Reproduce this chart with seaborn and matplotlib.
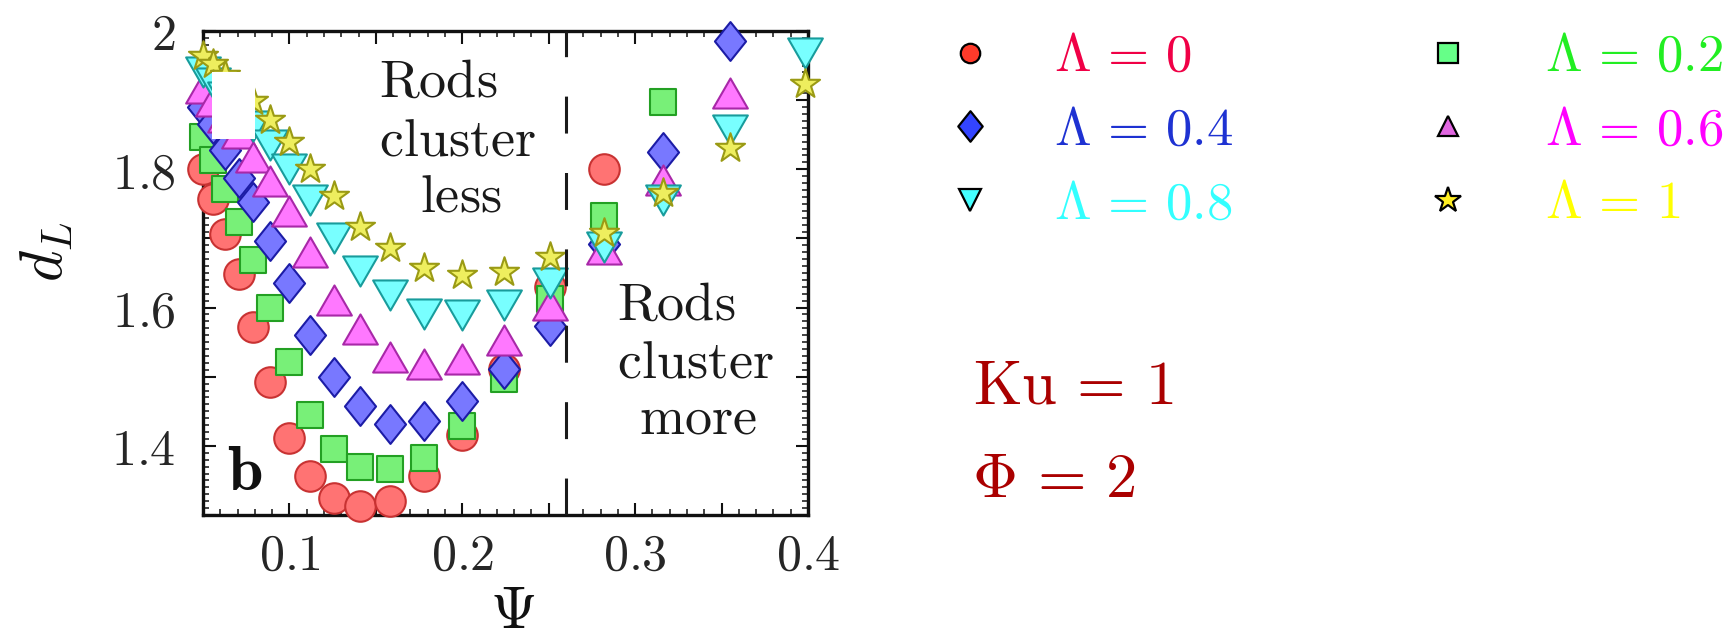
import numpy as np
import pandas as pd
import matplotlib
matplotlib.use("Agg")
import matplotlib.pyplot as plt
import seaborn as sns
from matplotlib.path import Path
from matplotlib.markers import MarkerStyle
from matplotlib.lines import Line2D
from matplotlib.patches import Rectangle
from matplotlib.ticker import FixedLocator, FixedFormatter, MultipleLocator

# ---------------- data ----------------
psi = [0.050, 0.056, 0.063, 0.071, 0.079, 0.089, 0.100, 0.112, 0.126, 0.141,
       0.158, 0.178, 0.200, 0.224, 0.251, 0.282, 0.316, 0.355, 0.398]
nan = np.nan
d_lam_0 = [1.800, 1.757, 1.706, 1.649, 1.572, 1.492, 1.412, 1.356, 1.325, 1.313,
           1.320, 1.356, 1.415, 1.511, 1.630, 1.801, nan, nan, nan]
d_lam_02 = [1.846, 1.813, 1.772, 1.724, 1.669, 1.599, 1.521, 1.444, 1.395, 1.369,
            1.366, 1.383, 1.429, 1.497, 1.612, 1.733, 1.898, nan, nan]
d_lam_04 = [1.890, 1.865, 1.828, 1.788, 1.752, 1.697, 1.635, 1.560, 1.499, 1.458,
            1.432, 1.436, 1.465, 1.511, 1.574, 1.692, 1.825, 1.985, nan]
d_lam_06 = [1.917, 1.899, 1.876, 1.852, 1.818, 1.783, 1.740, 1.681, 1.611, 1.569,
            1.528, 1.519, 1.526, 1.553, 1.603, 1.684, 1.785, 1.911, nan]
d_lam_08 = [1.940, 1.925, 1.905, 1.885, 1.862, 1.835, 1.800, 1.755, 1.700, 1.653,
            1.618, 1.591, 1.589, 1.603, 1.635, 1.688, 1.755, 1.857, 1.968]
d_lam_1 = [1.964, 1.952, 1.937, 1.918, 1.899, 1.871, 1.840, 1.800, 1.761, 1.717,
           1.686, 1.657, 1.647, 1.652, 1.673, 1.708, 1.765, 1.831, 1.923]

lambda_labels = ["0", "0.2", "0.4", "0.6", "0.8", "1"]
series = [d_lam_0, d_lam_02, d_lam_04, d_lam_06, d_lam_08, d_lam_1]

x_major_ticks = [0.05, 0.10, 0.15, 0.20, 0.25, 0.30, 0.35, 0.40]
x_tick_labels = ["", "0.1", "", "0.2", "", "0.3", "", "0.4"]
y_major_ticks = [1.3, 1.4, 1.5, 1.6, 1.7, 1.8, 1.9, 2.0]
y_tick_labels = ["", "1.4", "", "1.6", "", "1.8", "", "2"]
psi_boundary = 0.26

df = pd.concat(
    [pd.DataFrame({"psi": psi, "d": vals, "Lambda": lab})
     for lab, vals in zip(lambda_labels, series)],
    ignore_index=True)

# ---------------- styles ----------------
def poly_marker(verts):
    v = list(verts) + [verts[0]]
    codes = [Path.MOVETO] + [Path.LINETO] * (len(verts) - 1) + [Path.CLOSEPOLY]
    return MarkerStyle(Path(v, codes))

diamond = poly_marker([(0, 1), (0.8, 0), (0, -1), (-0.8, 0)])
tri_up = poly_marker([(0, 0.866), (-1, -0.866), (1, -0.866)])
tri_dn = poly_marker([(0, -0.866), (1, 0.866), (-1, 0.866)])

plot_markers = ["o", "s", diamond, tri_up, tri_dn, "*"]
plot_ms = [22, 18.5, 28, 25, 25, 22]
fills = ["#ff7373", "#78f078", "#7878ff", "#ff78ff", "#78ffff", "#eeee5e"]
edges = ["#c83232", "#23a023", "#1c1ca6", "#a828a8", "#189c9c", "#9a9a14"]

leg_markers = ["o", "s", diamond, "^", "v", "*"]
leg_ms = [14, 15, 22, 15, 16, 19]
leg_fills = ["#ff3a2a", "#66ff88", "#3344ff", "#e066e0", "#44ffff", "#ffee22"]
text_colors = ["#f00046", "#22ee22", "#1e32d2", "#ff00ff", "#33ffff", "#ffff00"]

sns.set_theme(style="ticks")
plt.rcParams["mathtext.fontset"] = "cm"
plt.rcParams["font.family"] = ["DejaVu Serif", "DejaVu Sans"]
plt.rcParams["lines.scale_dashes"] = False

fig = plt.figure(figsize=(17.28, 6.42), dpi=100, facecolor="white")
ax = fig.add_axes([0.11748, 0.19782, 0.35012, 0.75389])
ax.set_facecolor("white")

for lab, mk, ms, fc, ec in zip(lambda_labels, plot_markers, plot_ms, fills, edges):
    sub = df[df["Lambda"] == lab]
    sns.scatterplot(data=sub, x="psi", y="d", ax=ax, marker=mk, s=ms ** 2,
                    color=fc, edgecolor=ec, linewidth=1.5, clip_on=False,
                    zorder=3, legend=False)

ax.axvline(psi_boundary, color="#1a1a1a", lw=2.2, dashes=(26.6, 28.4), zorder=4)

ax.set_xlim(0.05, 0.40)
ax.set_ylim(1.3, 2.0)

ax.xaxis.set_major_locator(FixedLocator(x_major_ticks))
ax.xaxis.set_major_formatter(FixedFormatter([f"${t}$" if t else "" for t in x_tick_labels]))
ax.xaxis.set_minor_locator(MultipleLocator(0.01))
ax.yaxis.set_major_locator(FixedLocator(y_major_ticks))
ax.yaxis.set_major_formatter(FixedFormatter([f"${t}$" if t else "" for t in y_tick_labels]))
ax.yaxis.set_minor_locator(MultipleLocator(0.01))

ax.tick_params(which="both", direction="in", top=True, right=True, color="#111111")
ax.tick_params(which="major", length=9, width=1.5, labelsize=36)
ax.tick_params(which="minor", length=4.5, width=1.1)
ax.tick_params(axis="x", which="major", pad=12)
ax.tick_params(axis="y", which="major", pad=20)
for sp in ax.spines.values():
    sp.set_linewidth(2.4)
    sp.set_color("#111111")
    sp.set_visible(True)

ax.set_xlabel(r"$\Psi$", fontsize=43, color="#111111")
ax.set_ylabel(r"$d_L$", fontsize=43, color="#111111")
ax.xaxis.set_label_coords(0.5124, -0.138)
ax.yaxis.set_label_coords(-0.212, 0.543)

# annotation texts
tk = dict(transform=ax.transAxes, fontsize=39, color="#1a1a1a", va="baseline", zorder=5)
ax.text(0.2917, 0.8643, r"$\mathrm{Rods}$", ha="left", **tk)
ax.text(0.2917, 0.7438, r"$\mathrm{cluster}$", ha="left", **tk)
ax.text(0.4264, 0.6267, r"$\mathrm{less}$", ha="center", **tk)
ax.text(0.6838, 0.4029, r"$\mathrm{Rods}$", ha="left", **tk)
ax.text(0.6838, 0.2851, r"$\mathrm{cluster}$", ha="left", **tk)
ax.text(0.818, 0.1674, r"$\mathrm{more}$", ha="center", **tk)
ax.text(0.039, 0.0517, r"$\mathbf{b}$", transform=ax.transAxes, fontsize=46,
        color="#111111", va="baseline", ha="left", zorder=5)

# white patch present in the reference image
ax.add_patch(Rectangle((0.0144, 0.7769), 0.0716, 0.139, transform=ax.transAxes,
                       facecolor="white", edgecolor="none", zorder=10, clip_on=False))

# legend (two columns, placed separately)
handles = [Line2D([], [], ls="none", marker=m, ms=s, mfc=f, mec="black", mew=1.6)
           for m, s, f in zip(leg_markers, leg_ms, leg_fills)]
labels = [rf"$\Lambda\,=\,{lab}$" for lab in lambda_labels]
col1 = [0, 2, 4]
col2 = [1, 3, 5]
common = dict(loc="upper left", frameon=False, fontsize=38, handlelength=1.0,
              borderpad=0, borderaxespad=0, labelspacing=0.43, handleheight=0.7)
leg1 = fig.legend([handles[i] for i in col1], [labels[i] for i in col1],
                  bbox_to_anchor=(0.5461, 0.9517), handletextpad=1.09,
                  labelcolor=[text_colors[i] for i in col1], **common)
leg2 = fig.legend([handles[i] for i in col2], [labels[i] for i in col2],
                  bbox_to_anchor=(0.8227, 0.9517), handletextpad=1.33,
                  labelcolor=[text_colors[i] for i in col2], **common)

fig.text(0.5631, 0.3718, r"$\mathrm{Ku}\,=\,1$", fontsize=45, color="#aa0000", va="baseline")
fig.text(0.5623, 0.2263, r"$\Phi\,=\,2$", fontsize=45, color="#aa0000", va="baseline")

fig.savefig("out.png", dpi=100, facecolor="white")
